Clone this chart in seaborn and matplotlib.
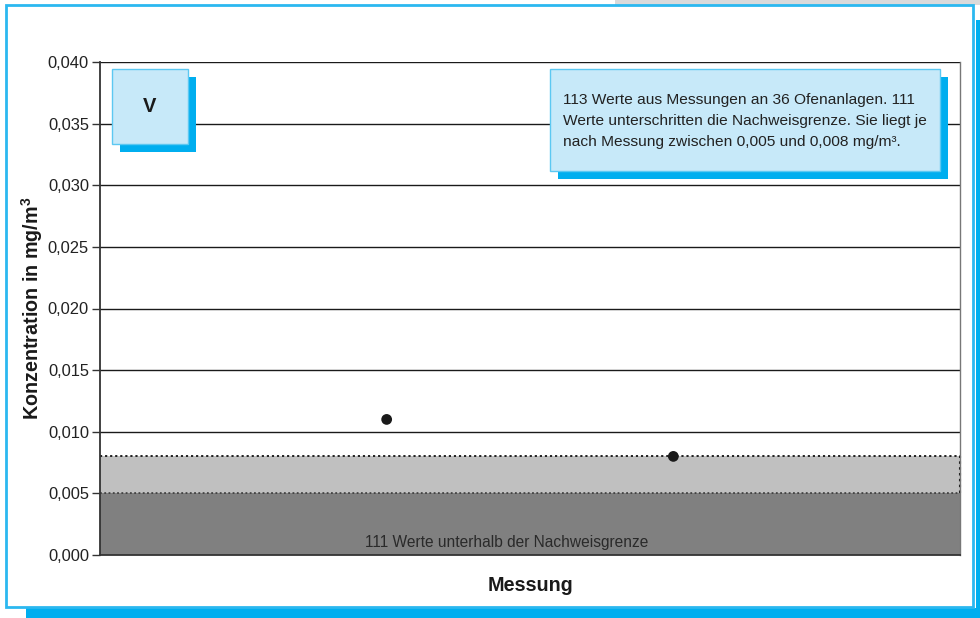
import matplotlib
matplotlib.use("Agg")
import matplotlib.pyplot as plt
from matplotlib.patches import Rectangle
from matplotlib.ticker import FuncFormatter
import seaborn as sns
import pandas as pd

# ---- data ----
messung_pos = [1, 2]
konzentration = [0.011, 0.008]
nachweis_low = 0.005
nachweis_high = 0.008
y_ticks = [0.000, 0.005, 0.010, 0.015, 0.020, 0.025, 0.030, 0.035, 0.040]
x_range = [0, 3]
box_label = "V"
info_lines = ["113 Werte aus Messungen an 36 Ofenanlagen. 111",
              "Werte unterschritten die Nachweisgrenze. Sie liegt je",
              "nach Messung zwischen 0,005 und 0,008 mg/m³."]
band_text = "111 Werte unterhalb der Nachweisgrenze"
ylabel = "Konzentration in mg/m$^\\mathregular{3}$"
xlabel = "Messung"

df = pd.DataFrame({"Messung": messung_pos, "Konzentration": konzentration})

sns.set_theme(style="white")
plt.rcParams["font.family"] = ["Liberation Sans", "DejaVu Sans"]

W, H = 980, 618
fig = plt.figure(figsize=(W / 100, H / 100), dpi=100)
fig.patch.set_facecolor("white")

def px(x0, y0, w, h):
    # convert pixel box (top-left origin) to figure fraction
    return (x0 / W, 1 - (y0 + h) / H, w / W, h / H)

CYAN = "#00aeef"
LIGHTBLUE = "#c7e9f9"
EDGEBLUE = "#5cc8f2"

# background decorations
x, y, w, h = px(615, 0, 365, 5)
fig.add_artist(Rectangle((x, y), w, h, transform=fig.transFigure, facecolor="#d9dadb", edgecolor="none", zorder=0))
x, y, w, h = px(26, 608, 954, 10)
fig.add_artist(Rectangle((x, y), w, h, transform=fig.transFigure, facecolor=CYAN, edgecolor="none", zorder=0))
x, y, w, h = px(976, 20, 4, 598)
fig.add_artist(Rectangle((x, y), w, h, transform=fig.transFigure, facecolor=CYAN, edgecolor="none", zorder=0))
x, y, w, h = px(6, 5, 967, 602)
fig.add_artist(Rectangle((x, y), w, h, transform=fig.transFigure, facecolor="white", edgecolor="#2bb8f0", linewidth=2.0, zorder=0.5))

ax = fig.add_axes([100 / W, 1 - 555 / H, 860 / W, 493 / H])
ax.set_facecolor("none")
ax.set_zorder(2)

# bands
ax.axhspan(0, nachweis_low, facecolor="#808080", edgecolor="none", zorder=1)
ax.axhspan(nachweis_low, nachweis_high, facecolor="#c0c0c0", edgecolor="none", zorder=1)
ax.axhline(nachweis_high, color="#111111", linestyle=(0, (1.2, 1.6)), linewidth=1.3, zorder=2)
ax.axhline(nachweis_low, color="#333333", linestyle=(0, (1.2, 1.6)), linewidth=1.1, zorder=2)
ax.plot([x_range[1], x_range[1]], [nachweis_low, nachweis_high], color="#111111",
        linestyle=(0, (1.2, 1.6)), linewidth=1.5, zorder=3, clip_on=False)

# grid lines
for t in y_ticks[1:]:
    if t > nachweis_high:
        ax.axhline(t, color="#1a1a1a", linewidth=1.0, zorder=0.5)

sns.scatterplot(data=df, x="Messung", y="Konzentration", ax=ax, color="#1a1a1a",
                s=60, edgecolor="none", zorder=5, clip_on=False)

ax.set_xlim(*x_range)
ax.set_ylim(y_ticks[0], y_ticks[-1])
ax.set_yticks(y_ticks)
ax.yaxis.set_major_formatter(FuncFormatter(lambda v, p: f"{v:.3f}".replace(".", ",")))
ax.set_xticks([])
ax.tick_params(axis="y", which="major", direction="out", length=6, width=1.0,
               color="#333333", labelsize=11.9, labelcolor="#222222", pad=2, left=True)
ax.spines["top"].set_visible(False)
ax.spines["left"].set_color("#333333")
ax.spines["left"].set_linewidth(1.3)
ax.spines["bottom"].set_color("#333333")
ax.spines["bottom"].set_linewidth(1.3)
ax.spines["right"].set_color("#777777")
ax.spines["right"].set_linewidth(1.0)
for s in ax.spines.values():
    s.set_zorder(4)

ax.set_ylabel(ylabel, fontsize=14.2, fontweight="bold", color="#1a1a1a")
ax.yaxis.set_label_coords(-0.064, 0.5)
ax.set_xlabel(xlabel, fontsize=14.2, fontweight="bold", color="#1a1a1a")
ax.xaxis.set_label_coords(0.5, -0.043)

ax.text(0.4727, 0.025, band_text, transform=ax.transAxes, ha="center", va="center",
        fontsize=11.2, color="#2a2a2a", zorder=6)

# "V" box
x, y, w, h = px(120, 77, 76, 75)
fig.add_artist(Rectangle((x, y), w, h, transform=fig.transFigure, facecolor=CYAN, edgecolor="none", zorder=5))
x, y, w, h = px(112, 69, 76, 75)
fig.add_artist(Rectangle((x, y), w, h, transform=fig.transFigure, facecolor=LIGHTBLUE, edgecolor=EDGEBLUE, linewidth=1.0, zorder=6))
fig.text(150 / W, 1 - 106 / H, box_label, ha="center", va="center", fontsize=14.5,
         fontweight="bold", color="#1a1a1a", zorder=7)

# info box
x, y, w, h = px(558, 77, 390, 102)
fig.add_artist(Rectangle((x, y), w, h, transform=fig.transFigure, facecolor=CYAN, edgecolor="none", zorder=5))
x, y, w, h = px(550, 69, 390, 102)
fig.add_artist(Rectangle((x, y), w, h, transform=fig.transFigure, facecolor=LIGHTBLUE, edgecolor=EDGEBLUE, linewidth=1.0, zorder=6))
for i, line in enumerate(info_lines):
    fig.text(563 / W, 1 - (100 + 21 * i) / H, line, ha="left", va="center", fontsize=11.15,
             color="#222222", zorder=7)

fig.savefig("out.png", dpi=100)
